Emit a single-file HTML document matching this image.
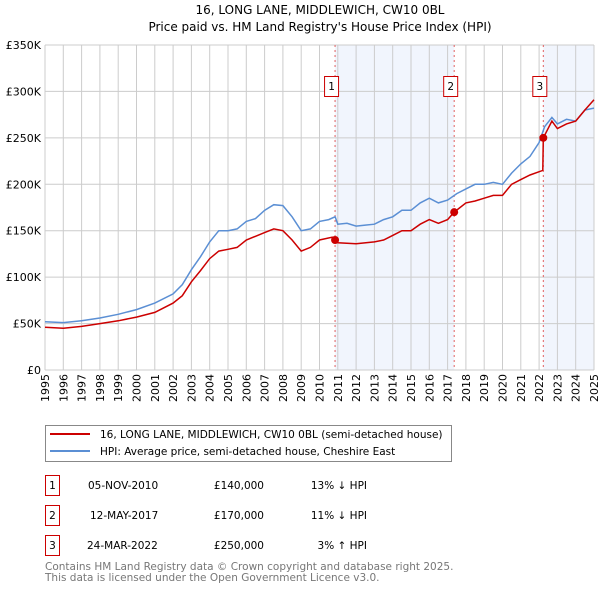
<!DOCTYPE html>
<html><head><meta charset="utf-8">
<style>
body{margin:0;background:#fff;width:600px;height:590px;overflow:hidden;font-family:"DejaVu Sans","Liberation Sans",sans-serif;}
svg text{font-family:"DejaVu Sans","Liberation Sans",sans-serif;}
</style></head>
<body>
<svg id="chart" width="600" height="590" viewBox="0 0 600 590" xmlns="http://www.w3.org/2000/svg">
<text x="320" y="14" text-anchor="middle" font-size="12">16, LONG LANE, MIDDLEWICH, CW10 0BL</text>
<text x="320" y="31" text-anchor="middle" font-size="12">Price paid vs. HM Land Registry's House Price Index (HPI)</text>
<g id="plot"></g>
<g>
<rect x="45.5" y="425.5" width="406" height="36" fill="#fff" stroke="#888"/>
<line x1="50" y1="434" x2="90" y2="434" stroke="#cc0000" stroke-width="2"/>
<text x="100" y="438" font-size="10.5">16, LONG LANE, MIDDLEWICH, CW10 0BL (semi-detached house)</text>
<line x1="50" y1="451" x2="90" y2="451" stroke="#5b8fd4" stroke-width="2"/>
<text x="100" y="455" font-size="10.5">HPI: Average price, semi-detached house, Cheshire East</text>
</g>
<g font-size="10.5">
<rect x="45.5" y="475.5" width="14" height="20" fill="#fff" stroke="#cc0000"/><text x="52.5" y="489" text-anchor="middle">1</text>
<text x="88" y="489">05-NOV-2010</text><text x="264" y="489" text-anchor="end">£140,000</text><text x="367" y="489" text-anchor="end">13% ↓ HPI</text>
<rect x="45.5" y="505.5" width="14" height="20" fill="#fff" stroke="#cc0000"/><text x="52.5" y="519" text-anchor="middle">2</text>
<text x="90" y="519">12-MAY-2017</text><text x="264" y="519" text-anchor="end">£170,000</text><text x="367" y="519" text-anchor="end">11% ↓ HPI</text>
<rect x="45.5" y="535.5" width="14" height="20" fill="#fff" stroke="#cc0000"/><text x="52.5" y="549" text-anchor="middle">3</text>
<text x="87" y="549">24-MAR-2022</text><text x="264" y="549" text-anchor="end">£250,000</text><text x="367" y="549" text-anchor="end">3% ↑ HPI</text>
</g>
<text x="45" y="570" font-size="10.5" fill="#777">Contains HM Land Registry data © Crown copyright and database right 2025.</text>
<text x="45" y="581" font-size="10.5" fill="#777">This data is licensed under the Open Government Licence v3.0.</text>
</svg>
<script>
const yTicks=[0,50,100,150,200,250,300,350];
const yTickLabels=["£0","£50K","£100K","£150K","£200K","£250K","£300K","£350K"];
const xYears=[1995,1996,1997,1998,1999,2000,2001,2002,2003,2004,2005,2006,2007,2008,2009,2010,2011,2012,2013,2014,2015,2016,2017,2018,2019,2020,2021,2022,2023,2024,2025];
const hpiT=[1995,1996,1997,1998,1999,2000,2001,2002,2002.5,2003,2003.5,2004,2004.5,2005,2005.5,2006,2006.5,2007,2007.5,2008,2008.5,2009,2009.5,2010,2010.5,2010.85,2011,2011.5,2012,2012.5,2013,2013.5,2014,2014.5,2015,2015.5,2016,2016.5,2017,2017.5,2018,2018.5,2019,2019.5,2020,2020.5,2021,2021.5,2022,2022.3,2022.7,2023,2023.5,2024,2024.5,2025];
const hpiV=[52,51,53,56,60,65,72,82,92,108,122,138,150,150,152,160,163,172,178,177,165,150,152,160,162,165,157,158,155,156,157,162,165,172,172,180,185,180,183,190,195,200,200,202,200,212,222,230,245,262,272,265,270,268,280,282];
const propT=[1995,1996,1997,1998,1999,2000,2001,2002,2002.5,2003,2003.5,2004,2004.5,2005,2005.5,2006,2007,2007.5,2008,2008.5,2009,2009.5,2010,2010.7,2010.85,2011,2012,2013,2013.5,2014,2014.5,2015,2015.5,2016,2016.5,2017,2017.36,2018,2018.5,2019,2019.5,2020,2020.5,2021,2021.5,2022.2,2022.23,2022.7,2023,2023.5,2024,2024.5,2025];
const propV=[46,45,47,50,53,57,62,72,80,95,107,120,128,130,132,140,148,152,150,140,128,132,140,143,140,137,136,138,140,145,150,150,157,162,158,162,170,180,182,185,188,188,200,205,210,215,250,268,260,265,268,280,291];
const saleT=[2010.85,2017.36,2022.23];
const saleV=[140,170,250];
const saleLabels=["1","2","3"];
const X0=45,X1=594,Y0=370,Y1=45;
function xs(t){return X0+(t-1995)/(2025-1995)*(X1-X0);}
function ys(v){return Y0-v/350*(Y0-Y1);}
const NS="http://www.w3.org/2000/svg";
const plot=document.getElementById('plot');
function mk(tag,attrs,parent){const e=document.createElementNS(NS,tag);for(const k in attrs)e.setAttribute(k,attrs[k]);(parent||plot).appendChild(e);return e;}
let sh=mk('rect',{x:xs(saleT[0]),y:Y1,width:xs(saleT[1])-xs(saleT[0]),height:Y0-Y1,fill:'#eef3fc',opacity:0.8});


let sh2=mk('rect',{x:xs(saleT[2]),y:Y1,width:X1-xs(saleT[2]),height:Y0-Y1,fill:'#eef3fc',opacity:0.8});


xYears.forEach((yr,i)=>{
 const g=mk('line',{x1:xs(yr),x2:xs(yr),y1:Y1,y2:Y0,stroke:'#cccccc','stroke-width':1});
 
 
 const x=xs(yr)+4, y=374;
 const t=mk('text',{x:x,y:y,'text-anchor':'end','font-size':11,transform:'rotate(-90 '+x+' '+y+')'});
 t.textContent=yr;
 
 
});
yTicks.forEach((v,i)=>{
 const g=mk('line',{x1:X0,x2:X1,y1:ys(v),y2:ys(v),stroke:'#cccccc','stroke-width':1});
 
 
 const t=mk('text',{x:X0-4,y:ys(v)+4,'text-anchor':'end','font-size':11});
 t.textContent=yTickLabels[i];
 
 
});
saleT.forEach((t,i)=>{
 const l=mk('line',{x1:xs(t),x2:xs(t),y1:Y1,y2:Y0,stroke:'#e06060','stroke-width':1,'stroke-dasharray':'2,3'});
 
 
});
function pts(T,V){return T.map((t,i)=>xs(t).toFixed(1)+','+ys(V[i]).toFixed(1)).join(' ');}
const hl=mk('polyline',{points:pts(hpiT,hpiV),fill:'none',stroke:'#5b8fd4','stroke-width':1.5});


const pl=mk('polyline',{points:pts(propT,propV),fill:'none',stroke:'#cc0000','stroke-width':1.5});


saleT.forEach((t,i)=>{
 const c=mk('circle',{cx:xs(t),cy:ys(saleV[i]),r:4,fill:'#cc0000'});
 
 
 const r=mk('rect',{x:xs(t)-10.5,y:76.5,width:14,height:20,fill:'#fff',stroke:'#cc0000'});
 
 
 const tx=mk('text',{x:xs(t)-3.5,y:90,'text-anchor':'middle','font-size':10.5});
 tx.textContent=saleLabels[i];
 
 
});
</script>
</body></html>
